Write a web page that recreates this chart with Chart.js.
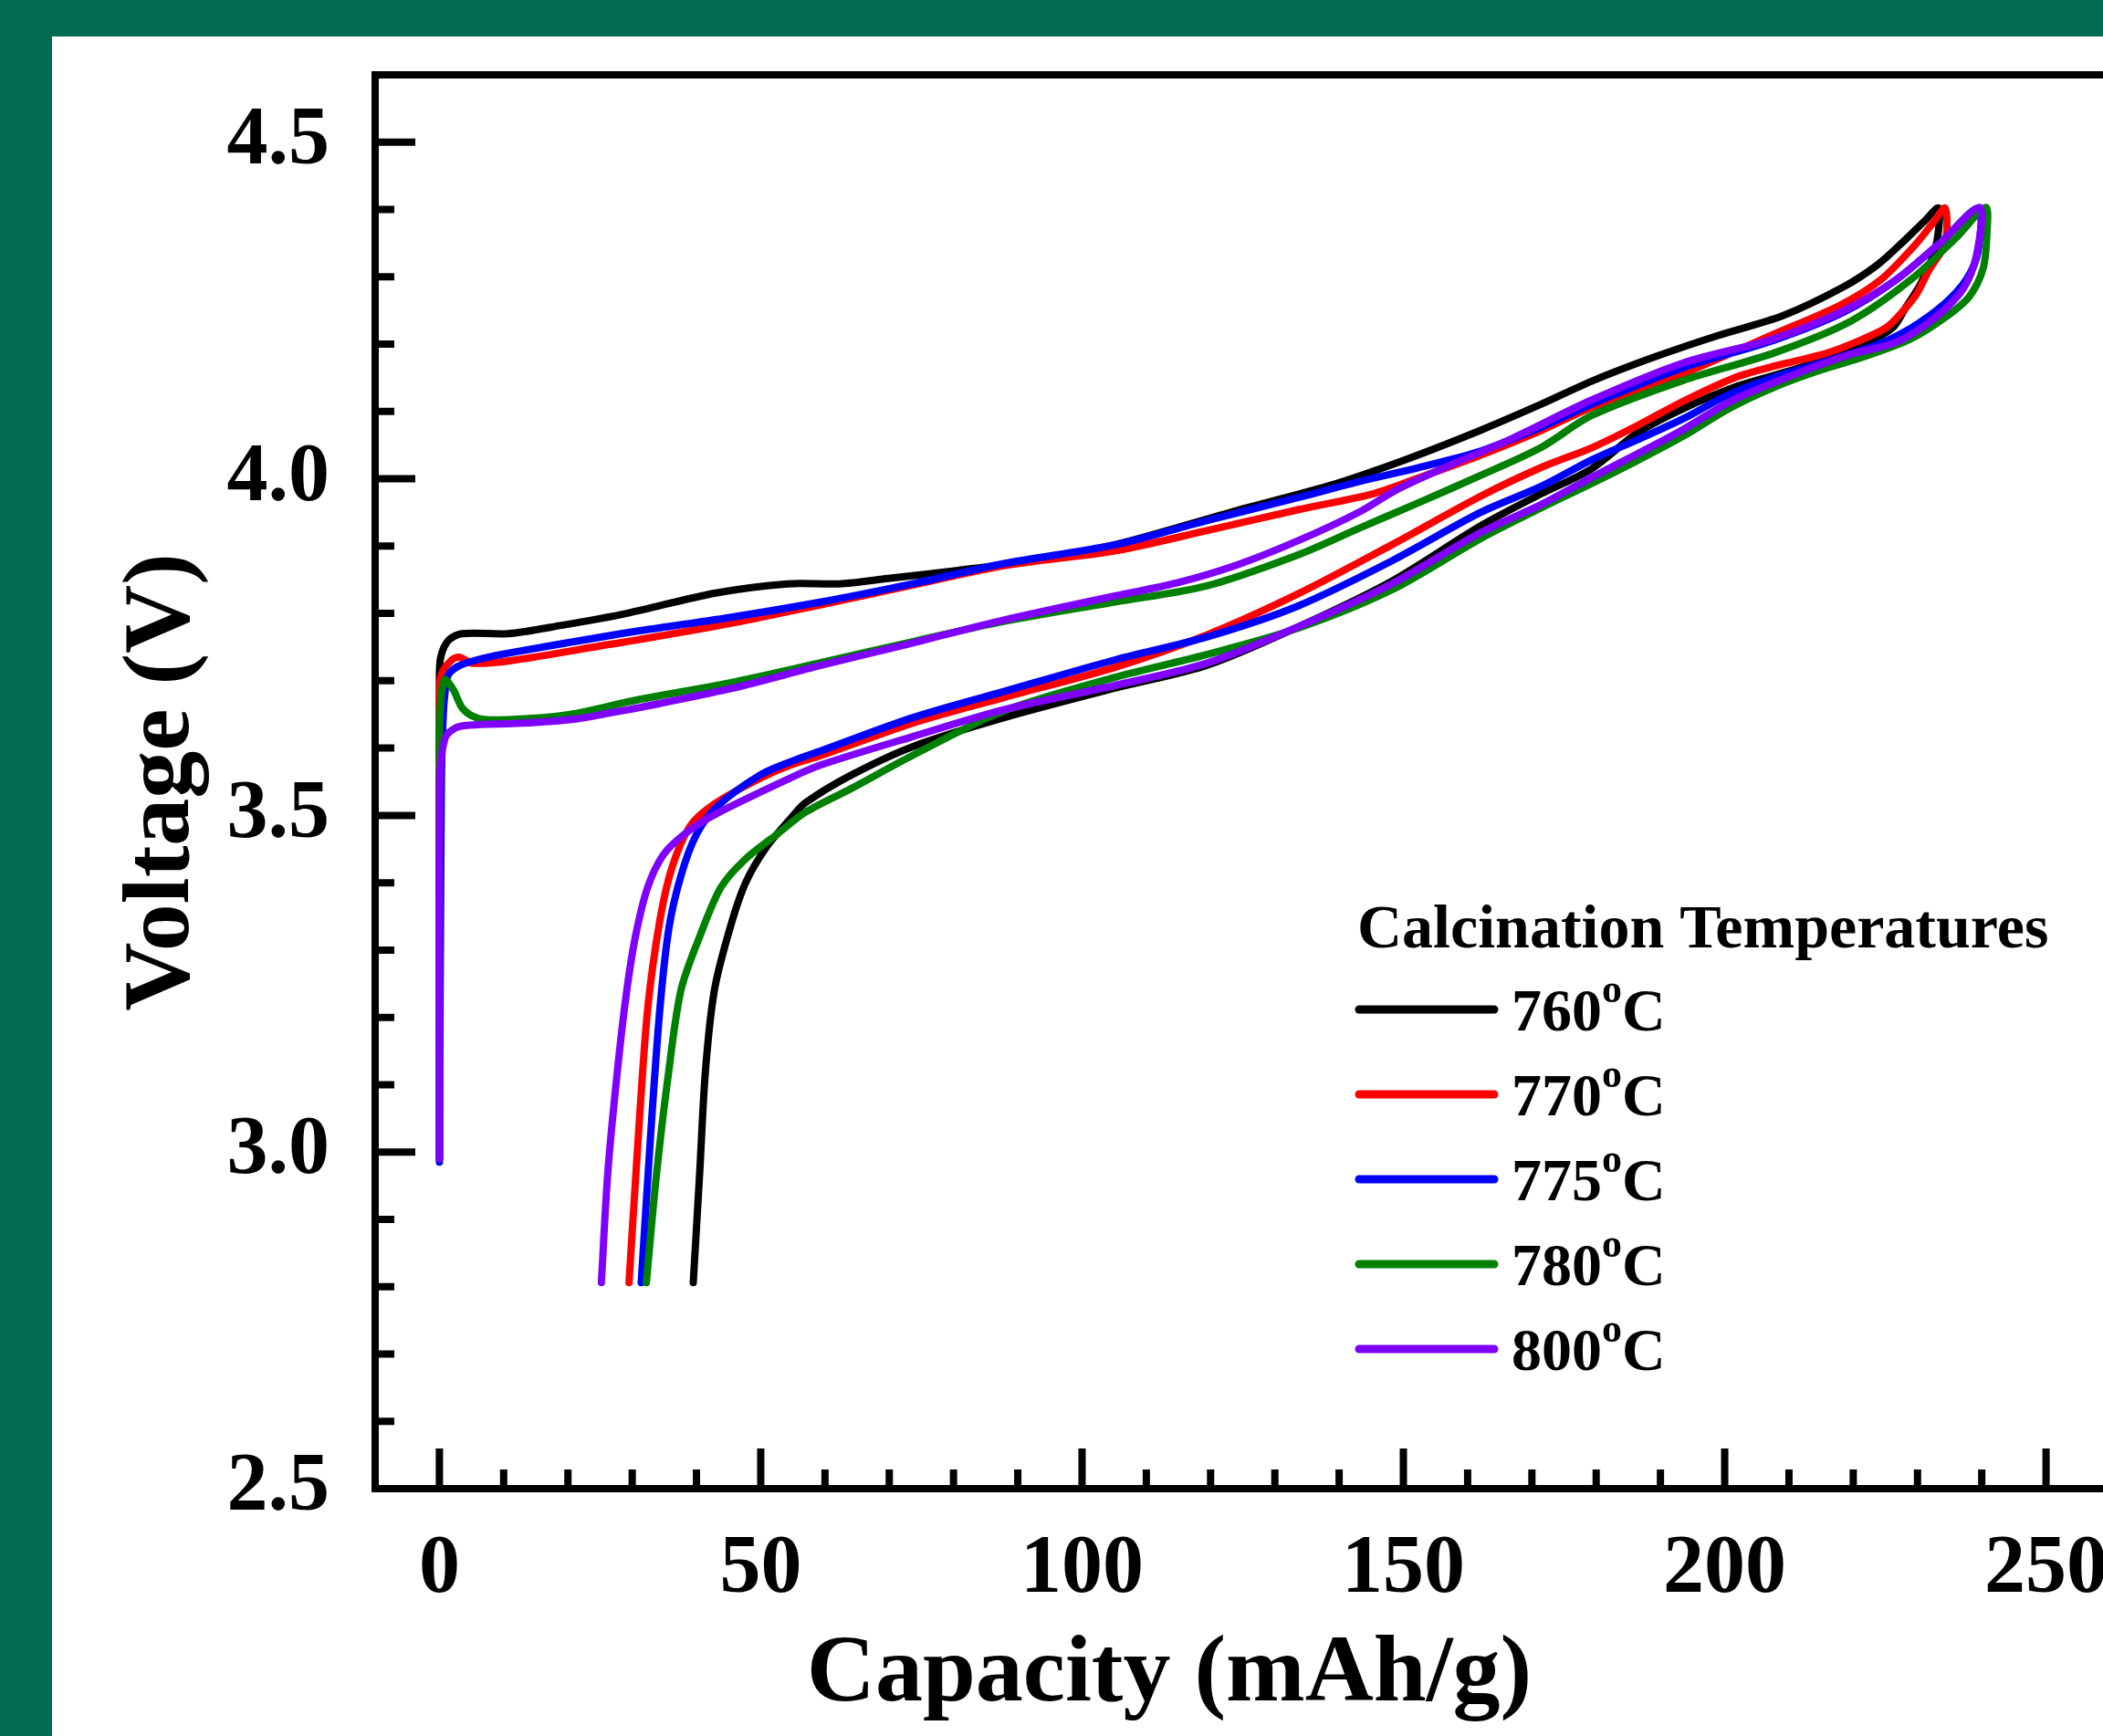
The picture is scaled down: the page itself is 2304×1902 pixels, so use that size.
<!DOCTYPE html>
<html>
<head>
<meta charset="utf-8">
<title>Charge/discharge curves</title>
<script src="https://cdn.jsdelivr.net/npm/chart.js@4.4.1/dist/chart.umd.min.js"></script>
<style>
  html, body { margin: 0; padding: 0; width: 2304px; height: 1902px; overflow: hidden; background: #036b52; }
  #panel { position: absolute; left: 57px; top: 40px; width: 2247px; height: 1862px; background: #ffffff; }
  #chart { position: absolute; left: 0; top: 0; }
</style>
</head>
<body>
<div id="panel"></div>
<canvas id="chart" width="2330" height="1902"></canvas>
<script>
// Values: [capacity (mAh/g), voltage (V)], charge then discharge
const temperatures = ["760", "770", "775", "780", "800"];
const lineColors = ["#000000", "#ff0000", "#0000ff", "#008000", "#8000ff"];
const capacityTicks = [0, 50, 100, 150, 200, 250];
const voltageTicks = [2.5, 3.0, 3.5, 4.0, 4.5];

const curve760 = [
  [0, 2.99], [0, 3.70], [0.2, 3.735], [1.4, 3.76], [3.5, 3.77], [10.7, 3.77], [18.8, 3.782],
  [29.1, 3.80], [42.8, 3.83], [54.2, 3.844], [62.2, 3.844], [69.8, 3.852], [80.7, 3.864],
  [92.5, 3.879], [105.1, 3.902], [124.1, 3.953], [138.2, 3.989], [150.2, 4.028], [162, 4.072],
  [171.5, 4.111], [179.3, 4.145], [188.8, 4.18], [199, 4.213], [209, 4.242], [218.3, 4.284],
  [223.8, 4.318], [228.2, 4.356], [231, 4.382], [233.3, 4.402],
  [232.8, 4.343], [230.5, 4.29], [228.2, 4.255], [226.1, 4.224], [221.8, 4.201], [212.4, 4.167],
  [201.5, 4.136], [193.5, 4.104], [186.4, 4.068], [179.3, 4.015], [171.5, 3.978], [162, 3.93],
  [148.2, 3.848], [133.6, 3.78], [119.4, 3.723], [105.1, 3.689], [87.8, 3.645], [73.6, 3.602],
  [64.1, 3.56], [57, 3.519], [54.7, 3.496], [50.9, 3.453], [47.6, 3.399], [45.2, 3.332],
  [42.8, 3.241], [41.4, 3.121], [40.5, 2.969], [39.5, 2.806]
];

const curve770 = [
  [0, 2.99], [0, 3.672], [0.3, 3.709], [1.7, 3.729], [3.0, 3.735], [5.2, 3.726], [11.2, 3.73],
  [26.4, 3.754], [31, 3.761], [45.2, 3.785], [59.4, 3.813], [73.6, 3.842], [87.8, 3.871],
  [105.1, 3.893], [119.4, 3.923], [133.6, 3.954], [145.4, 3.978], [152, 4.0], [162, 4.035],
  [171.5, 4.072], [179.3, 4.106], [193.5, 4.156], [207.7, 4.215], [218, 4.258], [224.2, 4.295],
  [229.5, 4.346], [232.4, 4.38], [234.3, 4.402],
  [234.3, 4.35], [231.8, 4.31], [229.9, 4.275], [228, 4.252], [225.2, 4.225], [221.4, 4.207],
  [215.7, 4.186], [208, 4.168], [201.5, 4.15], [193.5, 4.115], [186.4, 4.079], [179.3, 4.046],
  [171.5, 4.017], [162, 3.974], [148.2, 3.902], [133.6, 3.829], [119.4, 3.768], [105.1, 3.72],
  [87.8, 3.675], [73.6, 3.637], [59.4, 3.589], [54.7, 3.575], [49.9, 3.555], [42.8, 3.517],
  [39.0, 3.484], [36.2, 3.423], [34.3, 3.344], [32.4, 3.212], [31, 3.03], [29.5, 2.806]
];

const curve775 = [
  [0, 2.985], [0.3, 3.55], [0.6, 3.65], [0.9, 3.685], [1.4, 3.709], [3.0, 3.722], [5.8, 3.731],
  [10.1, 3.74], [26.4, 3.767], [31, 3.774], [45.2, 3.794], [59.4, 3.817], [73.6, 3.844],
  [87.8, 3.874], [105.1, 3.902], [119.4, 3.938], [133.6, 3.972], [143.1, 3.996], [152.5, 4.017],
  [162, 4.041], [171.5, 4.077], [179.3, 4.111], [193.5, 4.165], [207.7, 4.206], [218.6, 4.248],
  [226.6, 4.295], [233.7, 4.352], [239.5, 4.402],
  [239.4, 4.337], [237.6, 4.296], [234.2, 4.26], [229, 4.224], [223.4, 4.198], [214.8, 4.172],
  [207.7, 4.151], [200.6, 4.125], [193.5, 4.089], [186.4, 4.058], [179.3, 4.028], [171.5, 3.989],
  [162, 3.95], [148.2, 3.878], [133.6, 3.811], [119.4, 3.765], [105.1, 3.731], [87.8, 3.684],
  [73.6, 3.645], [59.4, 3.596], [54.7, 3.58], [49.9, 3.56], [43.3, 3.514], [40, 3.472],
  [37.6, 3.411], [35.7, 3.332], [34.3, 3.212], [32.9, 3.03], [31.4, 2.806]
];

const curve780 = [
  [0, 2.99], [0, 3.62], [0.3, 3.68], [0.85, 3.702], [2.2, 3.686], [3.6, 3.659], [5.8, 3.645],
  [9, 3.642], [16.8, 3.646], [21, 3.651], [31, 3.672], [45.2, 3.697], [59.4, 3.727], [73.6, 3.758],
  [87.8, 3.788], [105.1, 3.817], [119.4, 3.841], [133.6, 3.887], [143, 3.926], [152.5, 3.965],
  [162, 4.005], [171.5, 4.047], [179.3, 4.094], [193.5, 4.146], [207.7, 4.187], [219.6, 4.234],
  [229, 4.296], [236.1, 4.359], [240.6, 4.403],
  [240.8, 4.364], [240.2, 4.312], [238, 4.27], [234.2, 4.239], [229, 4.208], [221.9, 4.182],
  [214.8, 4.161], [207.7, 4.136], [200.6, 4.104], [193.5, 4.063], [186.4, 4.027], [179.3, 3.993],
  [171.5, 3.957], [162, 3.911], [148.2, 3.835], [133.6, 3.778], [119.4, 3.739], [105.1, 3.705],
  [87.8, 3.655], [73.6, 3.589], [64.1, 3.54], [57, 3.505], [52.8, 3.474], [47.6, 3.435],
  [43.8, 3.393], [40.5, 3.32], [37.6, 3.241], [35.7, 3.121], [33.8, 2.969], [32.2, 2.806]
];

const curve800 = [
  [0, 2.99], [0.05, 3.55], [0.85, 3.614], [2.5, 3.63], [4.7, 3.634], [12.8, 3.637], [21, 3.643],
  [26.4, 3.652], [31, 3.66], [45.2, 3.688], [59.4, 3.723], [73.6, 3.756], [87.8, 3.79],
  [105.1, 3.826], [114.6, 3.845], [124.1, 3.872], [133.6, 3.908], [143, 3.95], [149.2, 3.985],
  [157.2, 4.02], [166.7, 4.059], [179.3, 4.117], [193.5, 4.172], [207.7, 4.208], [218.6, 4.25],
  [226.7, 4.296], [233.8, 4.353], [239.7, 4.403],
  [239.2, 4.333], [237.1, 4.282], [232.8, 4.24], [226.7, 4.203], [219.6, 4.185], [212.5, 4.161],
  [201.5, 4.118], [193.5, 4.073], [186.4, 4.037], [179.3, 4.002], [171.5, 3.962], [162, 3.92],
  [148.2, 3.844], [133.6, 3.78], [119.4, 3.726], [105.1, 3.693], [87.8, 3.657], [73.6, 3.617],
  [59.4, 3.575], [54.7, 3.556], [42.8, 3.501], [38.1, 3.472], [34.8, 3.441], [32.4, 3.393],
  [30.5, 3.32], [29.1, 3.236], [27.7, 3.121], [26.2, 2.969], [25.2, 2.806]
];

const curves = [curve760, curve770, curve775, curve780, curve800];
const serif = '"Liberation Serif", "Times New Roman", serif';

// Build datasets (later ones are drawn on top, like the original)
const datasets = curves.map((pts, i) => ({
  label: temperatures[i] + "°C",
  data: pts.map((p) => ({ x: p[0], y: p[1] })),
  borderColor: lineColors[i],
  backgroundColor: lineColors[i],
  borderWidth: 8,
  borderCapStyle: "round",
  borderJoinStyle: "round",
  pointRadius: 0,
  showLine: true,
  tension: 0.3,
  fill: false,
  order: curves.length - i,
}));

// Box, inward ticks, axis titles and the legend
const axesAndLegend = {
  id: "axesAndLegend",
  afterDatasetsDraw(chart) {
    const { ctx, chartArea: area, scales } = chart;
    const xs = scales.x;
    const ys = scales.y;
    ctx.save();
    ctx.strokeStyle = "#000000";
    ctx.lineWidth = 8;
    ctx.lineCap = "butt";
    ctx.strokeRect(area.left, area.top, area.right - area.left, area.bottom - area.top);

    ctx.beginPath();
    for (let t = 26; t <= 45; t++) {
      const py = ys.getPixelForValue(t / 10);
      const len = t % 5 === 0 ? 44 : 21;
      ctx.moveTo(area.left, py);
      ctx.lineTo(area.left + len, py);
    }
    for (let c = 0; c <= 250; c += 10) {
      const px = xs.getPixelForValue(c);
      const len = c % 50 === 0 ? 44 : 21;
      ctx.moveTo(px, area.bottom);
      ctx.lineTo(px, area.bottom - len);
    }
    ctx.stroke();

    // axis titles
    ctx.fillStyle = "#000000";
    ctx.font = "bold 104px " + serif;
    ctx.textAlign = "center";
    ctx.textBaseline = "alphabetic";
    ctx.fillText("Capacity (mAh/g)", 1281, 1863);
    ctx.save();
    ctx.translate(206, 857);
    ctx.rotate(-Math.PI / 2);
    ctx.fillText("Voltage (V)", 0, 0);
    ctx.restore();

    // legend
    ctx.textAlign = "left";
    ctx.font = "bold 68px " + serif;
    ctx.fillText("Calcination Temperatures", 1487, 1038);
    chart.data.datasets.forEach((ds, i) => {
      const ly = 1106 + i * 93;
      ctx.strokeStyle = ds.borderColor;
      ctx.lineWidth = 9;
      ctx.lineCap = "round";
      ctx.beginPath();
      ctx.moveTo(1489, ly);
      ctx.lineTo(1637, ly);
      ctx.stroke();

      const base = ly + 23;
      let tx = 1656;
      ctx.font = "bold 66px " + serif;
      ctx.fillText(temperatures[i], tx, base);
      tx += ctx.measureText(temperatures[i]).width;
      ctx.font = "bold 44px " + serif;
      ctx.fillText("o", tx, base - 31);
      tx += ctx.measureText("o").width;
      ctx.font = "bold 66px " + serif;
      ctx.fillText("C", tx, base);
    });
    ctx.restore();
  },
};

const chart = new Chart(document.getElementById("chart"), {
  type: "scatter",
  data: { datasets: datasets },
  options: {
    responsive: false,
    animation: false,
    devicePixelRatio: 1,
    layout: { padding: { top: 82, right: 18, bottom: 0, left: 0 } },
    plugins: {
      legend: { display: false },
      tooltip: { enabled: false },
    },
    scales: {
      x: {
        type: "linear",
        min: -10,
        max: 260,
        grid: { display: false, drawTicks: false },
        border: { display: false },
        ticks: {
          color: "#000000",
          font: { family: serif, size: 90, weight: "bold" },
          padding: 36,
          maxRotation: 0,
          autoSkip: false,
          callback: (value) => String(value),
        },
        afterBuildTicks: (scale) => {
          scale.ticks = capacityTicks.map((v) => ({ value: v }));
        },
        afterFit: (scale) => {
          scale.height = 271;
          scale.paddingLeft = 0;
          scale.paddingRight = 0;
        },
      },
      y: {
        type: "linear",
        min: 2.5,
        max: 4.6,
        grid: { display: false, drawTicks: false },
        border: { display: false },
        ticks: {
          color: "#000000",
          font: { family: serif, size: 90, weight: "bold" },
          padding: 50,
          autoSkip: false,
          callback: (value) => value.toFixed(1),
        },
        afterBuildTicks: (scale) => {
          scale.ticks = voltageTicks.map((v) => ({ value: v }));
        },
        afterFit: (scale) => {
          scale.width = 411;
          scale.paddingTop = 0;
          scale.paddingBottom = 0;
        },
      },
    },
  },
  plugins: [axesAndLegend],
});
</script>
</body>
</html>
